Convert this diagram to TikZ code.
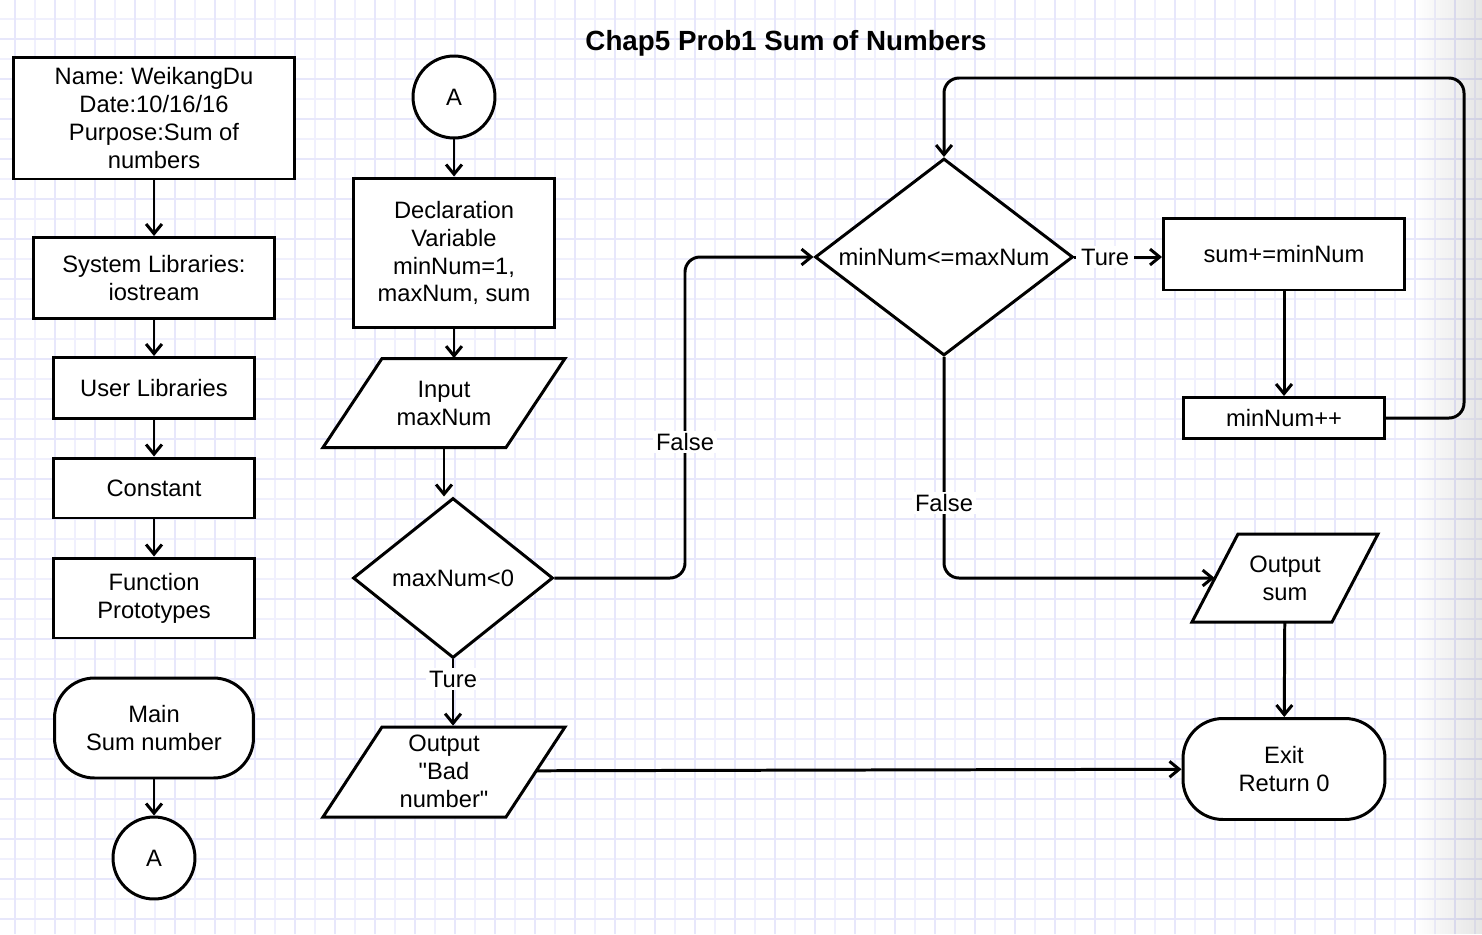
\documentclass[tikz,border=0pt]{standalone}
\usepackage{fontspec}
\setmainfont{Liberation Sans}[Ligatures=TeXOff]
\frenchspacing
\usetikzlibrary{shapes.geometric,arrows.meta,fadings}
\definecolor{gridminor}{RGB}{240,240,253}
\definecolor{gridmajor}{RGB}{231,231,251}
\tikzfading[name=fadeR,left color=transparent!100,right color=transparent!0]
\begin{document}
\begin{tikzpicture}[x=0.02cm,y=-0.02cm,
	txt/.style={font=\fontsize{13.5}{15.9}\selectfont,align=center},
	box/.style={txt,draw,line width=1.7pt,fill=white,inner sep=0pt},
	proc/.style={box,rectangle},
	term/.style={box,rectangle,rounded corners=0.8cm},
	conn/.style={box,circle,minimum size=1.64cm},
	io/.style={txt,rectangle,inner sep=0pt},
	iobox/.style={draw,line width=1.7pt,fill=white,line join=miter},
	dec/.style={box,diamond},
	arr/.style={line width=1.7pt,-{Straight Barb[length=5.5pt,width=9pt]}},
	lbl/.style={txt,fill=white,inner sep=1.5pt}]
	% background paper
	\useasboundingbox (0,0) rectangle (1482,934);
	\fill[white] (0,0) rectangle (1482,934);
	\foreach \x in {15,35,...,1475}{
		\draw[gridminor,line width=0.6pt] (\x,0)--(\x,934);
	}
	\foreach \y in {19,39,...,919}{
		\draw[gridminor,line width=0.6pt] (0,\y)--(1482,\y);
	}
	\foreach \x in {15,55,...,1455}{
		\draw[gridmajor,line width=0.6pt] (\x,0)--(\x,934);
	}
	\foreach \y in {39,79,...,919}{
		\draw[gridmajor,line width=0.6pt] (0,\y)--(1482,\y);
	}
	\fill[black,path fading=fadeR,fill opacity=0.1] (1415,0) rectangle (1482,934);

	\node[txt,font=\fontsize{15.8}{19}\selectfont\bfseries] (title) at (786,43) {Chap5 Prob1 Sum of Numbers};

	% left column
	\node[proc,minimum width=5.64cm,minimum height=2.44cm] (hdr) at (154,118) {Name: WeikangDu\\Date:10/16/16\\Purpose:Sum of\\numbers};
	\node[proc,minimum width=4.82cm,minimum height=1.62cm] (syslib) at (154,278) {System Libraries:\\iostream};
	\node[proc,minimum width=4.02cm,minimum height=1.22cm] (usrlib) at (154,388) {User Libraries};
	\node[proc,minimum width=4.02cm,minimum height=1.2cm] (const) at (154,488) {Constant};
	\node[proc,minimum width=4.02cm,minimum height=1.6cm] (proto) at (154,598) {Function\\Prototypes};
	\node[term,minimum width=3.98cm,minimum height=2cm] (mainT) at (154,728) {Main\\Sum number};
	\node[conn] (cA) at (154,858) {A};

	% parallelograms: centre x / centre y / top width / height / slant
	\foreach \cx/\cy/\w/\h/\s in {444/403/183/89/59,444/772/183/90/59,1285/578/140/88/46}{
		\draw[iobox] (\cx-\w/2+\s/2,\cy-\h/2) -- (\cx+\w/2+\s/2,\cy-\h/2) -- (\cx+\w/2-\s/2,\cy+\h/2) -- (\cx-\w/2-\s/2,\cy+\h/2) -- cycle;
	}

	% middle column
	\node[conn] (cB) at (454,97) {A};
	\node[proc,minimum width=4.02cm,minimum height=3cm] (decl) at (454,253) {Declaration\\Variable\\minNum=1,\\maxNum, sum};
	\node[io,minimum width=3.66cm,minimum height=1.78cm] (inp) at (444,403) {Input\\maxNum};
	\node[dec,aspect=1.25,minimum width=4cm,minimum height=3.2cm] (d1) at (453,578) {maxNum<0};
	\node[io,minimum width=3.66cm,minimum height=1.8cm] (bad) at (444,771) {Output\\"Bad\\number"};

	% right part
	\node[dec,aspect=1.31,minimum width=5.16cm,minimum height=3.94cm] (d2) at (944,257) {minNum<=maxNum};
	\node[proc,minimum width=4.82cm,minimum height=1.44cm] (sum) at (1284,254) {sum+=minNum};
	\node[proc,minimum width=4.02cm,minimum height=0.82cm] (inc) at (1284,418) {minNum++};
	\node[io,minimum width=2.8cm,minimum height=1.76cm] (outsum) at (1285,578) {Output\\sum};
	\node[term,minimum width=4.04cm,minimum height=2.02cm] (exit) at (1284,769) {Exit\\Return 0};

	\foreach \a/\b in {hdr/syslib,syslib/usrlib,usrlib/const,const/proto,mainT/cA,cB/decl,sum/inc,outsum/exit,bad/exit}{
		\draw[arr] (\a)--(\b);
	}
	\draw[arr] (decl.south)--(decl.south |- inp.north);
	\draw[arr] (inp.south)--(inp.south |- d1.north);
	\draw[arr] (d1.south)--node[lbl,pos=0.3]{Ture} (d1.south |- bad.north);
	\draw[arr] (d2.east)--node[lbl,pos=0.35,inner xsep=3pt]{Ture} (d2.east -| sum.west);

	\coordinate (fbend) at (685,420);
	\draw[arr,rounded corners=0.3cm] (d1.east) -| (fbend) |- (d2.west);
	\node[lbl] (f1) at (685,442) {False};

	\coordinate (loopc) at (1464,78);
	\draw[arr,rounded corners=0.3cm] (inc.east) -| (loopc) -| (d2.north);

	\draw[arr,rounded corners=0.3cm] (d2.south) |- (outsum);
	\node[lbl] (f2) at (944,503) {False};
\end{tikzpicture}
\end{document}
